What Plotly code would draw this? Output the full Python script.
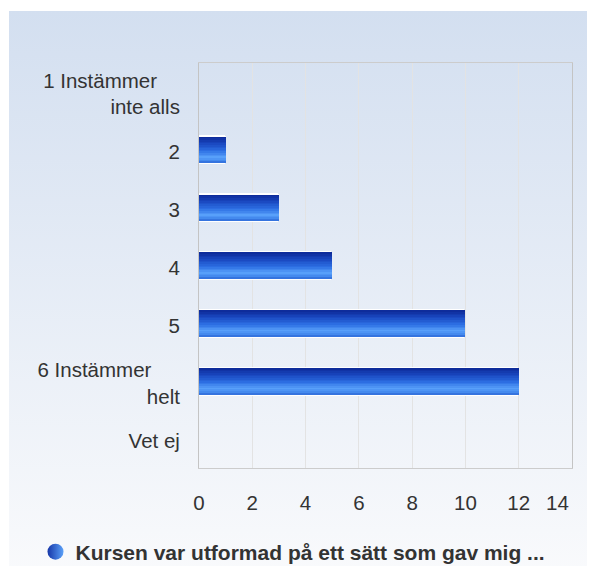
import base64
import plotly.graph_objects as go

# ---- data ----
categories = ["1 Instämmer inte alls", "2", "3", "4", "5", "6 Instämmer helt", "Vet ej"]
tick_labels = ["1 Instämmer\u00a0\u00a0\u00a0\u00a0<br>inte alls", "2", "3", "4", "5",
               "6 Instämmer\u00a0\u00a0\u00a0\u00a0\u00a0<br>helt", "Vet ej"]
values = [0, 1, 3, 5, 10, 12, 0]
series_name = "Kursen var utformad på ett sätt som gav mig ..."
x_ticks = [0, 2, 4, 6, 8, 10, 12, 14]
x_tick_text = ["0", "2", "4", "6", "8", "10", "12", ""]
last_tick_label = "14"

FONT = "Liberation Sans, Arial, sans-serif"

# vertical gradient stops for bars (top -> bottom)
stops = [(0.0, (12, 40, 150)), (0.25, (25, 70, 190)), (0.55, (45, 112, 228)),
         (0.78, (88, 160, 250)), (0.9, (70, 140, 240)), (1.0, (45, 105, 215))]

def col_at(t):
    for (a, ca), (b, cb) in zip(stops[:-1], stops[1:]):
        if a <= t <= b:
            f = (t - a) / (b - a) if b > a else 0
            c = [round(ca[k] + (cb[k] - ca[k]) * f) for k in range(3)]
            return "rgb(%d,%d,%d)" % tuple(c)
    return "rgb(%d,%d,%d)" % stops[-1][1]

fig = go.Figure()
W = 0.45
N = 16
# white outline base bar
fig.add_trace(go.Bar(y=categories, x=values, orientation="h", width=W + 0.05,
                     marker=dict(color="white", line=dict(width=0), cornerradius=3),
                     showlegend=False, hoverinfo="skip"))
for i in range(N):
    t = (i + 0.5) / N
    fig.add_trace(go.Bar(y=categories, x=values, orientation="h",
                         width=W / N * 1.25, offset=-W / 2 + i * W / N,
                         marker=dict(color=col_at(t), line=dict(width=0)),
                         showlegend=False, hoverinfo="x+y" if i == 0 else "skip"))

# legend entry
fig.add_trace(go.Scatter(x=[None], y=[None], mode="markers", name="<b>" + series_name + "</b>",
                         marker=dict(symbol="circle", size=20, color="#1636a8",
                                     gradient=dict(type="horizontal", color="#5aa0f8"),
                                     line=dict(width=0))))

svg = ("<svg xmlns='http://www.w3.org/2000/svg' width='100' height='100' preserveAspectRatio='none'>"
       "<defs><linearGradient id='g' x1='0' y1='0' x2='0' y2='1'>"
       "<stop offset='0' stop-color='#d3dff0'/><stop offset='1' stop-color='#f9fafc'/>"
       "</linearGradient></defs><rect width='100' height='100' fill='url(#g)'/></svg>")
src = "data:image/svg+xml;base64," + base64.b64encode(svg.encode()).decode()

FW, FH = 595, 566
L, T = 191, 55
R, B = FW - 564, FH - 460
pw, ph = FW - L - R, FH - T - B

fig.add_annotation(x=x_ticks[-1], xref="x", xanchor="right", xshift=-1,
                   y=(T + ph - 494) / ph, yref="paper", yanchor="middle",
                   text=last_tick_label, showarrow=False,
                   font=dict(family=FONT, size=20.5, color="#333333"))

fig.update_layout(
    width=FW, height=FH, autosize=False,
    margin=dict(l=L, r=R, t=T, b=B, autoexpand=False),
    paper_bgcolor="white", plot_bgcolor="rgba(0,0,0,0)",
    barmode="overlay", bargap=0,
    font=dict(family=FONT, size=20.5, color="#333333"),
    showlegend=True,
    legend=dict(orientation="h", x=(285 - L) / pw, xanchor="center",
                y=(T + ph - 544) / ph, yanchor="middle",
                font=dict(family=FONT, size=21, color="#333333"),
                bgcolor="rgba(0,0,0,0)", itemsizing="trace"),
    images=[dict(source=src, xref="paper", yref="paper",
                 x=(1 - L) / pw, y=(T + ph - 3) / ph,
                 sizex=(FW - 1) / pw, sizey=(FH - 3) / ph,
                 xanchor="left", yanchor="top", sizing="stretch", layer="below")],
    xaxis=dict(range=[0, 14], tickvals=x_ticks, ticktext=x_tick_text, automargin=False,
               showgrid=True, gridcolor="#e3e3e3", gridwidth=1,
               zeroline=False, showline=True, linecolor="#cccccc", linewidth=1, mirror=True,
               ticks="", ticklabelstandoff=16, fixedrange=True),
    yaxis=dict(categoryorder="array", categoryarray=categories, tickvals=categories,
               ticktext=tick_labels, autorange="reversed", automargin=False,
               showgrid=False, zeroline=False, showline=True, linecolor="#c4c4c4",
               linewidth=1, mirror=True, ticks="", ticklabelstandoff=14,
               ticklabelshift=-2, fixedrange=True),
)

fig.write_html("out.html")
